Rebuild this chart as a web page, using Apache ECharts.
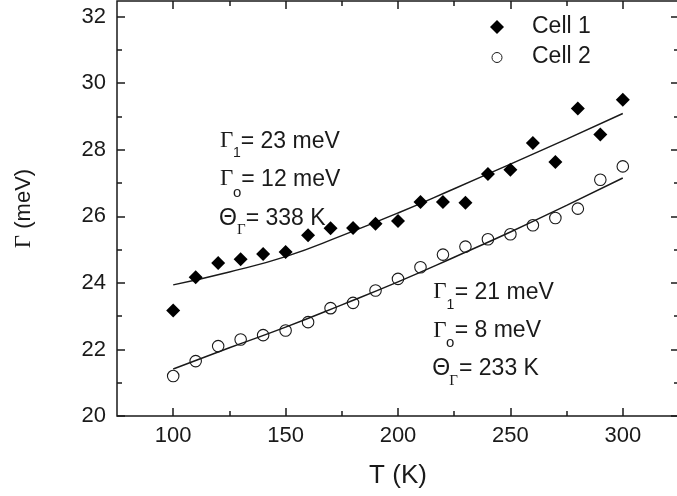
<!DOCTYPE html>
<html><head><meta charset="utf-8">
<script src="https://cdn.jsdelivr.net/npm/echarts@6/dist/echarts.min.js"></script>
<style>html,body{margin:0;padding:0;background:#fff}#c{width:677px;height:496px}</style>
</head><body><div id="c"></div>
<script>
// ---- data ----
const temps = [100,110,120,130,140,150,160,170,180,190,200,210,220,230,240,250,260,270,280,290,300];
const cell1 = [23.17,24.17,24.6,24.71,24.87,24.93,25.43,25.64,25.65,25.78,25.86,26.43,26.43,26.41,27.27,27.4,28.2,27.63,29.24,28.46,29.5];
const cell2 = [21.2,21.65,22.1,22.3,22.43,22.57,22.82,23.24,23.4,23.77,24.12,24.47,24.85,25.09,25.31,25.46,25.73,25.95,26.23,27.1,27.5];
const fitT = [100,125,150,175,200,225,250,275,300];
const fit1 = [23.94,24.33,24.79,25.42,26.1,26.83,27.57,28.32,29.09];
const fit2 = [21.41,22.05,22.67,23.34,24.03,24.77,25.53,26.33,27.15];
const xTicks = [100,150,200,250,300];
const xMinor = [125,175,225,275];
const yTicks = [20,22,24,26,28,30,32];
const yMinor = [21,23,25,27,29,31];
const seriesNames = ['Cell 1','Cell 2'];
const params1 = ['= 23 meV','= 12 meV','= 338 K'];
const params2 = ['= 21 meV','= 8 meV','= 233 K'];

// ---- chart ----
const SANS = '"Liberation Sans", Arial, Helvetica, sans-serif';
const SERIF = '"Liberation Serif", "Times New Roman", serif';
const INK = '#1a1a1a';
const chart = echarts.init(document.getElementById('c'), null, {renderer:'canvas'});

function tickAxis(pos, vals, len, isX) {
  return {type:'value', position:pos, min: isX ? 75 : 20, max: isX ? 325 : 32.47,
    axisLine:{show:false}, splitLine:{show:false}, axisLabel:{show:false},
    axisTick:{show:true, inside:true, length:len, customValues:vals, lineStyle:{color:INK, width:1.5}}};
}
const xMain = tickAxis('bottom', xTicks, 8, true);
xMain.axisLabel = {show:true, customValues:xTicks, fontSize:22, fontFamily:SANS, color:INK, margin:9};
xMain.name = 'T (K)'; xMain.nameLocation = 'middle'; xMain.nameGap = 47;
xMain.nameTextStyle = {fontSize:26, fontFamily:SANS, color:INK};
const yMain = tickAxis('left', yTicks, 8, false);
yMain.axisLabel = {show:true, customValues:yTicks, fontSize:22, fontFamily:SANS, color:INK, margin:11};
yMain.name = '{g|Γ} (meV)'; yMain.nameLocation = 'middle'; yMain.nameGap = 82;
yMain.nameTextStyle = {fontSize:22, fontFamily:SANS, color:INK, rich:{g:{fontSize:23, fontFamily:SERIF, color:INK}}};

function txt(x, yc, s, size, fam) {
  return {type:'text', x:x, y:yc, silent:true,
    style:{text:s, fontSize:size, fontFamily:fam, fill:INK, verticalAlign:'middle', align:'left'}};
}
function annotation(gx, rows, subs, restX, vals) {
  const out = [];
  out.push(txt(gx, rows[0], 'Γ', 23, SERIF));
  out.push(txt(subs[0][0], subs[0][1], '1', 14, SANS));
  out.push(txt(restX[0], rows[0], vals[0], 23, SANS));
  out.push(txt(gx, rows[1], 'Γ', 23, SERIF));
  out.push(txt(subs[1][0], subs[1][1], 'o', 15, SANS));
  out.push(txt(restX[1], rows[1], vals[1], 23, SANS));
  out.push(txt(gx - 1, rows[2], 'Θ', 23, SANS));
  out.push(txt(subs[2][0], subs[2][1], 'Γ', 15, SERIF));
  out.push(txt(restX[2], rows[2], vals[2], 23, SANS));
  return out;
}

const graphics = [
  {type:'polygon', silent:true, shape:{points:[[497,20],[504,27],[497,34],[490,27]]}, style:{fill:'#000'}},
  {type:'circle', silent:true, shape:{cx:497, cy:57.5, r:5}, style:{fill:'none', stroke:INK, lineWidth:1}},
  txt(532, 27, seriesNames[0], 23, SANS),
  txt(532, 57, seriesNames[1], 23, SANS)
].concat(
  annotation(220, [141.3, 179.3, 218.8], [[233,153.5],[233,192.5],[237,229.7]], [240.7, 241.3, 245.7], params1),
  annotation(433.3, [292.2, 330.8, 368.8], [[446.5,305],[446,343],[449.3,381]], [454.7, 454.7, 459], params2)
);

chart.setOption({
  animation:false,
  backgroundColor:'#fff',
  grid:{left:117, right:-2, top:1, bottom:80, show:true, borderColor:INK, borderWidth:1.5, backgroundColor:'transparent', outerBoundsMode:'none'},
  xAxis:[xMain, tickAxis('bottom', xMinor, 5, true), tickAxis('top', xTicks, 8, true), tickAxis('top', xMinor, 5, true)],
  yAxis:[yMain, tickAxis('left', yMinor, 5, false), tickAxis('right', yTicks, 8, false), tickAxis('right', yMinor, 5, false)],
  series:[
    {type:'line', name:'fit1', data:fitT.map((t,i)=>[t,fit1[i]]), symbol:'none', smooth:true, lineStyle:{color:INK, width:1.5}, z:2},
    {type:'line', name:'fit2', data:fitT.map((t,i)=>[t,fit2[i]]), symbol:'none', smooth:true, lineStyle:{color:INK, width:1.5}, z:2},
    {type:'scatter', name:seriesNames[0], data:temps.map((t,i)=>[t,cell1[i]]), symbol:'diamond', symbolSize:14, itemStyle:{color:'#000', opacity:1}, z:3},
    {type:'scatter', name:seriesNames[1], data:temps.map((t,i)=>[t,cell2[i]]), symbol:'circle', symbolSize:11.5, itemStyle:{color:'rgba(255,255,255,0)', borderColor:INK, borderWidth:1.1, opacity:1}, z:3}
  ],
  graphic:graphics
});
</script></body></html>
